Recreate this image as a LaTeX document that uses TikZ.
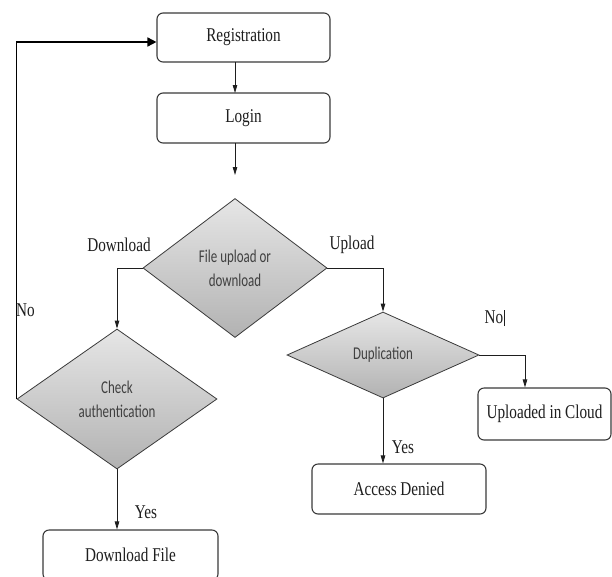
\documentclass[tikz,border=0pt]{standalone}
\usepackage{fontspec}
\setmainfont[FakeStretch=0.78]{Liberation Serif}
\newfontfamily\diafont[FakeStretch=0.72]{Carlito}
\usetikzlibrary{shapes.geometric,arrows.meta}
\definecolor{dtop}{HTML}{E6E6E6}
\definecolor{dbot}{HTML}{B2B2B2}
\definecolor{edge}{HTML}{3A3A3A}
\definecolor{txt}{HTML}{1E1E1E}
\begin{document}
\begin{tikzpicture}[x=1pt,y=1pt,
  procbox/.style={draw=edge, line width=1.1pt, rounded corners=6pt, fill=white,
    inner sep=0pt, text=txt, font=\fontsize{19.5}{22}\selectfont},
  decision/.style={diamond, draw=edge, line width=0.8pt, top color=dtop, bottom color=dbot,
    inner sep=0pt, text=txt!85!white, align=center,
    font=\diafont\fontsize{18}{24}\selectfont},
  lbl/.style={text=txt, inner sep=0pt, font=\fontsize{19.5}{22}\selectfont},
  flow/.style={draw=txt, line width=0.8pt, -{Triangle[length=8pt,width=4.5pt]}},
  loopflow/.style={draw=black, line width=1.6pt, -{Triangle[length=9pt,width=9pt]}}
]
\useasboundingbox (0,0) rectangle (612,-576);
\clip (0,0) rectangle (612,-576);

\node[procbox, minimum width=173pt, minimum height=49pt] (reg) at (243.5,-37.5) {Registration};
\node[procbox, minimum width=173pt, minimum height=50pt] (login) at (243.5,-118) {Login};
\node[decision, minimum width=184pt, minimum height=139pt] (fud) at (235,-268) {File upload or\\download};
\node[decision, minimum width=200pt, minimum height=140pt] (chk) at (117,-399) {Check\\authentication};
\node[decision, minimum width=192pt, minimum height=86pt] (dup) at (383,-355) {Duplication};
\node[procbox, minimum width=133pt, minimum height=52pt] (upl) at (544.5,-414) {Uploaded in Cloud};
\node[procbox, minimum width=174pt, minimum height=50pt] (acc) at (399,-489) {Access Denied};
\node[procbox, minimum width=175pt, minimum height=50pt] (dlf) at (130.5,-555) {Download File};

\coordinate (regin) at (235,-62);
\coordinate (regout) at (235,-62);
\coordinate (loginin) at (235,-93);
\coordinate (loginout) at (235,-143);
\coordinate (fudgap) at (235,-175);

\draw[flow] (regout) -- (loginin);
\draw[flow] (loginout) -- (fudgap);
\draw[flow] (fud.west) -| (chk.north);
\draw[flow] (fud.east) -| (dup.north);
\draw[flow] (dup.east) -| ([xshift=-19.5pt]upl.north);
\draw[flow] (dup.south) -- (dup.south |- acc.north);
\draw[flow] (chk.south) -- (chk.south |- dlf.north);
\draw[loopflow] (chk.west) |- ([yshift=-4.5pt]reg.west);

\node[lbl] (ldown) at (119,-245) {Download};
\node[lbl] (lup) at (352,-245) {Upload};
\node[lbl, anchor=west] (lno1) at (16,-310) {No};
\node[lbl] (lyes1) at (146,-512) {Yes};
\node[lbl] (lno2) at (495,-318) {No\hspace{1pt}\rule[-3pt]{1.2pt}{16pt}};
\node[lbl] (lyes2) at (403,-447) {Yes};
\end{tikzpicture}
\end{document}
